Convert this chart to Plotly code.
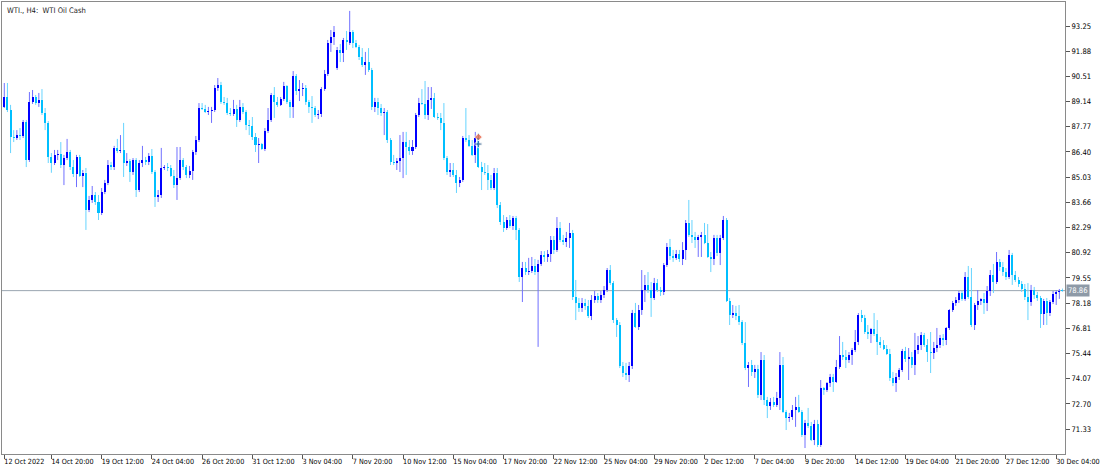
import plotly.graph_objects as go

# ---------------- data (WTI., H4) ----------------
OPEN = [
 88.85, 89.39, 88.68, 87.21, 87.16, 87.32, 87.27, 88.03, 85.96, 89.12,
 89.39, 89.06, 89.23, 88.52, 87.98, 86.13, 85.80, 86.24, 86.29, 85.69,
 86.07, 86.40, 85.58, 85.20, 86.13, 85.09, 85.27, 83.24, 83.79, 84.06,
 83.68, 83.08, 84.22, 84.71, 85.69, 85.58, 86.62, 86.45, 86.51, 85.80,
 85.91, 85.31, 85.96, 84.33, 85.80, 85.96, 85.86, 86.18, 85.31, 83.95,
 84.06, 85.53, 85.58, 85.53, 85.09, 84.60, 84.98, 85.96, 85.58, 85.15,
 85.36, 86.40, 87.05, 88.79, 88.74, 88.57, 88.63, 88.68, 89.88, 90.04,
 89.12, 89.06, 88.52, 88.46, 88.74, 88.14, 88.85, 88.57, 87.87, 87.81,
 87.21, 86.78, 86.83, 86.56, 87.54, 88.14, 89.50, 89.12, 88.96, 89.28,
 89.99, 89.12, 88.85, 90.53, 89.72, 89.82, 89.88, 89.12, 88.85, 88.79,
 88.41, 88.46, 89.82, 90.64, 92.33, 92.65, 90.97, 91.95, 91.78, 92.49,
 92.33, 92.92, 92.33, 92.11, 91.56, 91.13, 91.29, 90.86, 88.85, 89.12,
 88.79, 88.52, 88.57, 87.05, 85.86, 85.80, 85.91, 86.07, 86.94, 86.67,
 86.45, 86.67, 88.41, 89.06, 89.01, 88.41, 89.23, 89.34, 88.30, 88.25,
 87.98, 86.07, 85.31, 85.42, 85.15, 84.71, 84.88, 87.16, 87.05, 86.73,
 86.24, 87.16, 85.58, 85.31, 85.27, 84.88, 84.44, 85.27, 83.52, 82.59,
 82.26, 82.70, 82.37, 82.81, 82.16, 79.60, 80.09, 79.87, 79.93, 80.20,
 79.87, 80.31, 80.80, 80.69, 80.85, 81.61, 81.07, 82.26, 81.61, 81.50,
 81.72, 82.00, 78.51, 78.19, 77.92, 78.19, 78.03, 77.48, 78.35, 78.57,
 78.35, 78.62, 78.89, 79.98, 79.27, 77.26, 76.99, 74.76, 74.38, 74.27,
 74.76, 77.64, 76.88, 77.81, 78.89, 79.17, 78.89, 78.46, 79.27, 78.89,
 78.79, 80.25, 81.23, 80.74, 80.64, 80.85, 80.58, 81.07, 82.54, 81.89,
 81.78, 81.61, 81.78, 81.89, 81.45, 80.69, 80.58, 81.72, 80.91, 81.72,
 82.70, 78.30, 77.54, 77.64, 77.48, 77.15, 76.01, 74.65, 74.82, 74.44,
 74.60, 73.19, 75.09, 72.91, 72.59, 72.80, 72.64, 73.02, 74.82, 72.26,
 71.93, 71.99, 72.37, 72.53, 72.26, 71.01, 71.66, 71.50, 70.74, 71.61,
 70.46, 73.56, 73.46, 73.84, 74.16, 73.89, 74.71, 75.36, 75.25, 75.09,
 75.36, 75.63, 76.07, 77.54, 77.37, 76.61, 76.50, 76.77, 76.50, 76.07,
 75.90, 75.69, 75.41, 74.11, 73.84, 74.16, 74.54, 75.58, 75.14, 75.25,
 74.82, 75.63, 75.90, 76.45, 75.90, 75.52, 75.47, 75.74, 75.90, 76.28,
 76.17, 76.83, 77.81, 78.19, 78.35, 78.73, 78.41, 79.60, 78.51, 76.99,
 78.08, 78.30, 78.41, 78.19, 78.84, 79.71, 79.33, 80.42, 80.15, 79.87,
 79.60, 80.80, 79.71, 79.44, 79.22, 78.95, 78.51, 78.24, 78.89, 78.62,
 78.46, 77.59, 78.30, 77.64, 78.24, 78.68, 78.79, 78.90,
]
HIGH = [
 90.15, 90.15, 88.96, 87.59, 87.59, 87.70, 88.14, 88.14, 89.66, 89.77,
 89.50, 89.61, 89.82, 88.79, 88.08, 86.34, 86.51, 86.51, 86.94, 86.24,
 87.11, 86.51, 85.96, 86.24, 86.24, 85.42, 85.53, 84.01, 84.55, 84.22,
 84.06, 84.44, 84.88, 85.96, 85.86, 86.73, 87.11, 87.32, 87.98, 86.34,
 86.02, 86.07, 86.07, 85.96, 86.73, 86.13, 86.34, 86.56, 85.42, 84.33,
 86.62, 85.69, 85.80, 85.69, 85.42, 86.67, 86.67, 86.07, 85.69, 85.64,
 86.51, 87.27, 89.06, 89.06, 88.96, 88.85, 88.85, 90.04, 90.42, 90.21,
 89.39, 89.34, 88.79, 89.23, 88.96, 89.23, 89.06, 88.68, 88.14, 88.30,
 87.43, 87.16, 86.89, 87.70, 88.79, 89.61, 89.93, 89.39, 89.39, 90.21,
 90.04, 89.23, 90.80, 90.64, 90.31, 90.15, 90.04, 89.23, 89.44, 88.90,
 88.68, 89.93, 90.86, 92.49, 93.03, 93.25, 92.11, 92.27, 92.60, 92.98,
 94.07, 93.03, 92.49, 92.22, 92.05, 91.84, 92.05, 90.97, 89.34, 89.34,
 89.01, 88.79, 88.68, 87.16, 86.24, 86.07, 87.32, 87.49, 87.49, 87.05,
 87.05, 88.52, 89.34, 89.82, 90.26, 89.93, 89.93, 89.61, 88.52, 88.52,
 89.06, 86.18, 85.80, 85.80, 85.42, 85.04, 87.27, 88.79, 87.32, 87.05,
 87.49, 87.43, 85.86, 85.80, 85.69, 85.15, 85.53, 85.53, 83.68, 82.97,
 82.86, 82.97, 82.92, 82.92, 82.26, 80.42, 80.42, 80.64, 80.69, 80.58,
 80.53, 81.01, 81.01, 81.07, 81.83, 81.83, 82.86, 82.59, 81.89, 82.05,
 82.54, 82.16, 79.44, 78.46, 78.46, 78.41, 78.35, 78.62, 78.84, 78.73,
 78.84, 79.11, 80.09, 80.25, 79.38, 77.37, 77.15, 74.98, 74.93, 74.98,
 77.81, 78.19, 78.08, 79.98, 79.71, 79.87, 79.33, 79.55, 79.49, 79.06,
 80.36, 81.45, 81.67, 81.07, 81.07, 81.07, 81.50, 82.70, 83.79, 82.70,
 82.05, 81.89, 82.05, 82.54, 82.48, 80.96, 81.89, 81.89, 81.89, 82.92,
 82.81, 78.46, 78.08, 78.03, 78.08, 77.26, 77.15, 74.98, 75.09, 74.82,
 74.82, 75.52, 75.36, 73.08, 73.02, 73.08, 73.35, 75.52, 75.25, 72.37,
 72.21, 72.64, 73.08, 73.19, 72.37, 71.83, 72.48, 71.72, 71.83, 71.83,
 74.00, 73.62, 73.89, 74.33, 74.33, 75.09, 76.39, 76.07, 75.63, 75.52,
 75.74, 76.72, 77.64, 77.81, 77.54, 76.99, 76.83, 77.64, 77.26, 76.34,
 76.17, 75.90, 75.69, 74.44, 74.38, 74.65, 75.69, 75.80, 75.74, 75.52,
 76.56, 76.39, 76.61, 76.56, 76.23, 76.61, 76.07, 76.83, 76.45, 76.50,
 76.88, 77.86, 78.30, 78.51, 78.84, 78.84, 79.87, 80.20, 80.09, 78.19,
 78.89, 78.46, 78.73, 79.11, 79.98, 80.31, 80.96, 80.58, 80.42, 80.09,
 81.07, 80.91, 79.93, 79.60, 79.38, 79.22, 79.27, 79.17, 79.06, 78.79,
 78.57, 78.41, 78.46, 78.35, 78.84, 78.89, 78.95, 78.97,
]
LOW = [
 88.79, 88.57, 86.34, 86.94, 87.05, 87.05, 87.16, 85.58, 85.86, 89.01,
 88.96, 88.85, 88.41, 87.59, 85.80, 85.27, 85.69, 85.96, 85.53, 84.60,
 85.96, 85.42, 85.04, 84.49, 85.04, 84.49, 82.16, 83.13, 83.63, 83.52,
 82.70, 82.97, 84.11, 84.60, 85.42, 85.42, 86.34, 86.34, 85.04, 85.64,
 84.77, 85.15, 83.95, 84.22, 85.58, 85.69, 85.69, 85.20, 83.41, 83.68,
 83.90, 85.42, 85.36, 85.04, 84.44, 83.79, 84.88, 85.42, 84.98, 84.98,
 84.88, 86.24, 86.94, 88.68, 88.52, 88.41, 87.98, 88.57, 89.72, 89.01,
 88.96, 88.41, 88.36, 88.36, 87.76, 88.03, 88.46, 87.59, 87.32, 87.05,
 86.40, 85.80, 86.51, 86.45, 87.43, 88.03, 88.25, 88.85, 88.90, 89.17,
 89.01, 88.25, 88.25, 89.50, 89.17, 89.44, 88.96, 88.52, 87.98, 88.30,
 88.19, 88.30, 89.72, 90.53, 91.84, 92.22, 90.86, 91.29, 91.29, 91.95,
 92.22, 92.05, 92.05, 91.40, 91.02, 90.59, 90.75, 88.68, 88.57, 88.41,
 88.36, 87.32, 86.89, 85.69, 85.69, 85.42, 85.31, 84.98, 85.15, 86.24,
 86.24, 86.56, 88.30, 88.96, 88.19, 88.14, 88.74, 88.25, 88.14, 87.59,
 85.96, 85.15, 85.04, 85.04, 84.17, 84.49, 84.77, 86.94, 86.67, 86.18,
 85.80, 85.53, 84.33, 85.15, 84.33, 84.33, 84.33, 83.35, 82.43, 82.05,
 82.16, 82.26, 82.16, 81.61, 79.33, 78.24, 79.71, 79.71, 79.82, 79.71,
 75.80, 80.20, 80.42, 80.42, 80.42, 80.85, 80.96, 81.50, 81.34, 81.23,
 81.18, 78.35, 77.26, 77.70, 77.70, 77.81, 77.37, 77.26, 78.19, 78.19,
 78.19, 78.46, 78.79, 79.17, 77.10, 76.34, 74.65, 74.16, 74.00, 73.89,
 74.60, 76.83, 76.72, 77.54, 78.24, 78.73, 77.43, 78.35, 78.79, 78.57,
 78.62, 80.15, 80.53, 80.42, 80.53, 80.42, 80.25, 80.53, 81.78, 81.45,
 81.18, 80.69, 80.69, 81.39, 80.64, 79.87, 80.25, 80.74, 80.25, 81.61,
 78.24, 76.99, 77.37, 77.26, 76.99, 75.90, 74.54, 73.62, 74.22, 74.11,
 73.02, 72.91, 72.64, 71.93, 72.37, 72.53, 72.53, 72.37, 72.21, 71.28,
 71.72, 71.83, 71.45, 72.21, 70.90, 70.30, 71.39, 70.68, 70.46, 70.36,
 70.36, 73.19, 73.35, 73.62, 73.35, 73.84, 74.60, 75.09, 74.65, 74.93,
 74.82, 75.52, 75.90, 77.15, 76.50, 76.23, 76.01, 76.39, 75.36, 75.74,
 75.63, 75.36, 73.95, 73.67, 73.35, 74.00, 74.44, 74.98, 74.00, 74.65,
 74.27, 75.41, 75.63, 75.80, 74.98, 74.38, 75.14, 75.52, 75.74, 75.85,
 75.90, 76.72, 77.70, 78.03, 78.19, 78.30, 78.30, 78.41, 76.88, 76.72,
 77.81, 78.08, 77.59, 77.75, 78.57, 78.73, 79.22, 79.93, 79.66, 79.44,
 79.49, 79.17, 79.33, 79.06, 78.79, 78.35, 77.26, 78.03, 78.41, 78.30,
 76.83, 76.99, 76.99, 77.48, 78.13, 78.08, 78.41, 78.80,
]
CLOSE = [
 89.39, 88.68, 87.21, 87.16, 87.32, 87.27, 88.03, 85.96, 89.12, 89.39,
 89.06, 89.23, 88.52, 87.98, 86.13, 85.80, 86.24, 86.29, 85.69, 86.07,
 86.40, 85.58, 85.20, 86.13, 85.09, 85.27, 83.24, 83.79, 84.06, 83.68,
 83.08, 84.22, 84.71, 85.69, 85.58, 86.62, 86.45, 86.51, 85.80, 85.91,
 85.31, 85.96, 84.33, 85.80, 85.96, 85.86, 86.18, 85.31, 83.95, 84.06,
 85.53, 85.58, 85.53, 85.09, 84.60, 84.98, 85.96, 85.58, 85.15, 85.36,
 86.40, 87.05, 88.79, 88.74, 88.57, 88.63, 88.68, 89.88, 90.04, 89.12,
 89.06, 88.52, 88.46, 88.74, 88.14, 88.85, 88.57, 87.87, 87.81, 87.21,
 86.78, 86.83, 86.56, 87.54, 88.14, 89.50, 89.12, 88.96, 89.28, 89.99,
 89.12, 88.85, 90.53, 89.72, 89.82, 89.88, 89.12, 88.85, 88.79, 88.41,
 88.46, 89.82, 90.64, 92.33, 92.65, 92.92, 91.95, 91.78, 92.49, 92.38,
 92.92, 92.33, 92.11, 91.56, 91.13, 91.29, 90.86, 88.85, 89.12, 88.79,
 88.52, 88.57, 87.05, 85.86, 85.80, 85.91, 86.07, 86.94, 86.67, 86.45,
 86.67, 88.41, 89.06, 89.01, 88.41, 89.23, 89.34, 88.30, 88.25, 87.98,
 86.07, 85.31, 85.42, 85.15, 84.71, 84.88, 87.16, 87.05, 86.73, 86.24,
 87.16, 85.58, 85.31, 85.27, 84.88, 84.44, 85.27, 83.52, 82.59, 82.26,
 82.70, 82.37, 82.81, 82.16, 79.60, 80.09, 79.87, 79.93, 80.20, 79.87,
 80.31, 80.80, 80.69, 80.85, 81.61, 81.07, 82.26, 81.61, 81.50, 81.72,
 82.00, 78.51, 78.19, 77.92, 78.19, 78.03, 77.48, 78.35, 78.57, 78.35,
 78.62, 78.89, 79.98, 79.27, 77.26, 76.99, 74.76, 74.38, 74.27, 74.76,
 77.64, 76.88, 77.81, 78.89, 79.17, 78.89, 78.46, 79.27, 78.89, 78.79,
 80.25, 81.23, 80.74, 80.64, 80.85, 80.58, 81.07, 82.54, 81.89, 81.78,
 81.61, 81.78, 81.89, 81.45, 80.69, 80.58, 81.72, 80.91, 81.72, 82.70,
 78.30, 77.54, 77.64, 77.48, 77.15, 76.01, 74.65, 74.82, 74.44, 74.60,
 73.19, 75.09, 72.91, 72.59, 72.80, 72.64, 73.02, 74.82, 72.26, 71.93,
 71.99, 72.37, 72.53, 72.26, 71.01, 71.66, 71.50, 70.74, 71.61, 70.46,
 73.56, 73.46, 73.84, 74.16, 73.89, 74.71, 75.36, 75.25, 75.09, 75.36,
 75.63, 76.07, 77.54, 77.37, 76.61, 76.50, 76.77, 76.50, 76.07, 75.90,
 75.69, 75.41, 74.11, 73.84, 74.16, 74.54, 75.58, 75.14, 75.25, 74.82,
 75.63, 75.90, 76.45, 75.90, 75.52, 75.47, 75.74, 75.90, 76.28, 76.17,
 76.83, 77.81, 78.19, 78.35, 78.73, 78.41, 79.60, 78.51, 76.99, 78.08,
 78.30, 78.41, 78.19, 78.84, 79.71, 79.33, 80.42, 80.15, 79.87, 79.60,
 80.80, 79.71, 79.44, 79.22, 78.95, 78.51, 78.24, 78.89, 78.62, 78.46,
 77.59, 78.30, 77.64, 78.24, 78.68, 78.79, 78.84, 78.86,
]

X_TICK_BARS = [0, 15, 31, 47, 63, 79, 95, 111, 127, 143, 159,
               175, 191, 207, 223, 239, 255, 271, 287, 303, 319, 335]
X_TICK_LABELS = ["12 Oct 2022", "14 Oct 20:00", "19 Oct 12:00", "24 Oct 04:00",
                 "26 Oct 20:00", "31 Oct 12:00", "3 Nov 04:00", "7 Nov 20:00",
                 "10 Nov 12:00", "15 Nov 04:00", "17 Nov 20:00", "22 Nov 12:00",
                 "25 Nov 04:00", "29 Nov 20:00", "2 Dec 12:00", "7 Dec 04:00",
                 "9 Dec 20:00", "14 Dec 12:00", "19 Dec 04:00", "21 Dec 20:00",
                 "27 Dec 12:00", "30 Dec 04:00"]
Y_TICKS = [71.33, 72.70, 74.07, 75.44, 76.81, 78.18, 79.55, 80.92, 82.29,
           83.66, 85.03, 86.40, 87.77, 89.14, 90.51, 91.88, 93.25]
Y_TICK_LABELS = ["71.33", "72.70", "74.07", "75.44", "76.81", "78.18", "79.55",
                 "80.92", "82.29", "83.66", "85.03", "86.40", "87.77", "89.14",
                 "90.51", "91.88", "93.25"]
LAST_PRICE = 78.86
TRADE_BAR = [151, 151]
TRADE_PRICE = [87.21, 86.83]
TITLE = "WTI., H4:\u00a0 WTI Oil Cash"

# ---------------- build ----------------
n = min(len(OPEN), len(HIGH), len(LOW), len(CLOSE))
BULL, BEAR = "#0000ff", "#00bfff"
BULL_WICK, BEAR_WICK = "#7070ff", "#66d4ff"
FONT = "DejaVu Sans Condensed, Liberation Sans, Arial, sans-serif"
FS = 7.6

bx, base, hgt, cols = [], [], [], []
wx = {True: [], False: []}
wy = {True: [], False: []}
for i in range(n):
    o, h, l, c = OPEN[i], HIGH[i], LOW[i], CLOSE[i]
    up = c >= o
    top, bot = max(o, c), min(o, c)
    bx.append(i)
    base.append(bot)
    hgt.append(max(top - bot, 0.03))
    cols.append(BULL if up else BEAR)
    if h > top:
        wx[up] += [i, i, None]
        wy[up] += [top, h, None]
    if l < bot:
        wx[up] += [i, i, None]
        wy[up] += [l, bot, None]

fig = go.Figure()
fig.add_trace(go.Bar(x=bx, y=hgt, base=base, width=0.64,
                     marker=dict(color=cols, line=dict(width=0)),
                     hoverinfo="skip"))
fig.add_trace(go.Scatter(x=wx[True], y=wy[True], mode="lines",
                         line=dict(color=BULL_WICK, width=1), hoverinfo="skip"))
fig.add_trace(go.Scatter(x=wx[False], y=wy[False], mode="lines",
                         line=dict(color=BEAR_WICK, width=1), hoverinfo="skip"))
fig.add_trace(go.Scatter(x=TRADE_BAR, y=TRADE_PRICE, mode="markers",
                         marker=dict(symbol=["diamond", "cross"], size=[6, 6],
                                     color=["#e5502e", "#3d6894"]),
                         hoverinfo="skip"))

fig.add_shape(type="line", xref="paper", x0=0, x1=1, yref="y",
              y0=LAST_PRICE, y1=LAST_PRICE,
              line=dict(color="#9aa5b0", width=1), layer="below")

fig.add_annotation(xref="paper", yref="paper", x=0, y=1, xanchor="left",
                   yanchor="top", xshift=3, yshift=-2, text=TITLE,
                   showarrow=False, font=dict(family=FONT, size=FS, color="#1a1a1a"))
fig.add_annotation(xref="paper", yref="y", x=1, y=LAST_PRICE, xanchor="left",
                   yanchor="middle", xshift=1, text=f"{LAST_PRICE:.2f}",
                   showarrow=False, bgcolor="#8e9aa7", borderpad=1,
                   font=dict(family=FONT, size=FS, color="#ffffff"))

fig.update_layout(
    width=1100, height=471,
    margin=dict(l=2, r=35, t=2, b=17, autoexpand=False),
    paper_bgcolor="#ffffff", plot_bgcolor="#ffffff",
    showlegend=False, bargap=0,
    font=dict(family=FONT, size=FS, color="#000000"),
    xaxis=dict(range=[-0.73, 337.8], tickmode="array", tickvals=X_TICK_BARS,
               ticktext=X_TICK_LABELS, ticks="outside", ticklen=4, tickangle=0,
               tickfont=dict(family=FONT, size=7.2, color="#000000"),
               tickcolor="#555555", tickwidth=1, showgrid=False, zeroline=False,
               showline=True, linecolor="#8a8a8a", linewidth=1, mirror=True,
               ticklabelposition="outside right", ticklabeloverflow="allow",
               ticklabelshift=-1, automargin=False, fixedrange=True),
    yaxis=dict(side="right", range=[69.976, 94.555], tickmode="array",
               tickvals=Y_TICKS, ticktext=Y_TICK_LABELS, ticks="outside",
               ticklen=4, tickcolor="#555555", tickwidth=1, showgrid=False,
               zeroline=False, showline=True, linecolor="#8a8a8a", linewidth=1,
               mirror=True, ticklabeloverflow="allow", automargin=False,
               fixedrange=True),
)

fig.write_html("out.html",
               config={"displayModeBar": False, "staticPlot": True},
               post_script="document.body.style.margin='0px';"
                           "document.body.style.padding='0px';"
                           "document.body.style.overflow='hidden';")
